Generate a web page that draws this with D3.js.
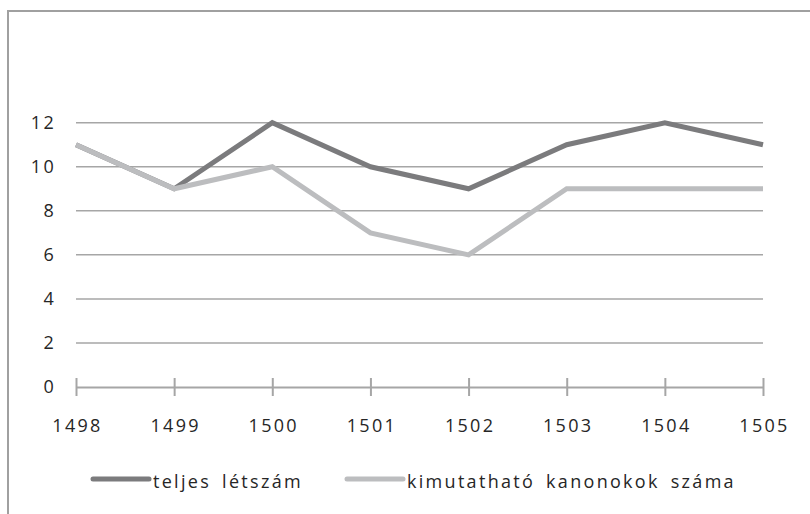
<!DOCTYPE html>
<html>
<head>
<meta charset="utf-8">
<script src="https://cdn.jsdelivr.net/npm/d3@7"></script>
<style>
  body { margin: 0; background: #fff; }
  svg { display: block; font-family: 'Open Sans', sans-serif; }
  text { letter-spacing: 2.3px; }
</style>
</head>
<body>
<div id="chart"></div>
<script>
// data
const years = ['1498', '1499', '1500', '1501', '1502', '1503', '1504', '1505'];
const teljes = [11, 9, 12, 10, 9, 11, 12, 11];
const kimutathato = [11, 9, 10, 7, 6, 9, 9, 9];
const yTicks = [0, 2, 4, 6, 8, 10, 12];
const seriesNames = ['teljes létszám', 'kimutatható kanonokok száma'];

const W = 810;
const H = 514;
const margin = { top: 122.7, right: 47, bottom: 127, left: 76 };
const width = W - margin.left - margin.right;
const height = H - margin.top - margin.bottom;
const fontSize = 18;

const svg = d3.select('#chart')
  .append('svg')
  .attr('width', W)
  .attr('height', H);

// outer frame
svg.append('rect')
  .attr('x', 8).attr('y', 11)
  .attr('width', W).attr('height', H)
  .attr('fill', 'none')
  .attr('stroke', '#a0a0a0')
  .attr('stroke-width', 2);

const g = svg.append('g')
  .attr('transform', `translate(${margin.left},${margin.top})`);

const x = d3.scalePoint()
  .domain(years)
  .range([0, width]);

const y = d3.scaleLinear()
  .domain([0, 12])
  .range([height, 0]);

// gridlines
g.append('g')
  .selectAll('line')
  .data(yTicks.filter((d) => d > 0))
  .enter()
  .append('line')
  .attr('x1', 0)
  .attr('x2', width)
  .attr('y1', (d) => y(d))
  .attr('y2', (d) => y(d))
  .attr('stroke', '#a6a6a6')
  .attr('stroke-width', 1.5);

// y axis labels
const yAxis = g.append('g')
  .call(d3.axisLeft(y).tickValues(yTicks).tickSize(0).tickPadding(20));
yAxis.select('.domain').remove();
yAxis.selectAll('text')
  .attr('font-family', "'Open Sans', sans-serif")
  .attr('font-size', fontSize)
  .attr('fill', '#262626');

// x axis
const xAxis = g.append('g')
  .attr('transform', `translate(0,${height})`)
  .call(d3.axisBottom(x).tickSizeInner(9).tickSizeOuter(0).tickPadding(23));
xAxis.select('.domain')
  .attr('stroke', '#a6a6a6')
  .attr('stroke-width', 2);
xAxis.selectAll('.tick line')
  .attr('stroke', '#a6a6a6')
  .attr('stroke-width', 2)
  .attr('y1', -9);
xAxis.selectAll('text')
  .attr('font-family', "'Open Sans', sans-serif")
  .attr('font-size', fontSize)
  .attr('fill', '#262626')
  .attr('dx', 1);

// lines
const line = d3.line()
  .x((d, i) => x(years[i]))
  .y((d) => y(d));

const series = [
  { name: seriesNames[0], values: teljes, color: '#7b7b7d' },
  { name: seriesNames[1], values: kimutathato, color: '#bcbdbf' },
];

series.forEach((s) => {
  g.append('path')
    .datum(s.values)
    .attr('d', line)
    .attr('fill', 'none')
    .attr('stroke', s.color)
    .attr('stroke-width', 5)
    .attr('stroke-linejoin', 'miter');
});

// legend
const legendX = [93, 347];
const legend = svg.append('g');
series.forEach((s, i) => {
  legend.append('line')
    .attr('x1', legendX[i])
    .attr('x2', legendX[i] + 56)
    .attr('y1', 479)
    .attr('y2', 479)
    .attr('stroke', s.color)
    .attr('stroke-width', 5)
    .attr('stroke-linecap', 'round');
  legend.append('text')
    .attr('x', legendX[i] + 60)
    .attr('y', 488)
    .attr('font-size', fontSize)
    .attr('fill', '#262626')
    .style('word-spacing', '4px')
    .text(s.name);
});
</script>
</body>
</html>
